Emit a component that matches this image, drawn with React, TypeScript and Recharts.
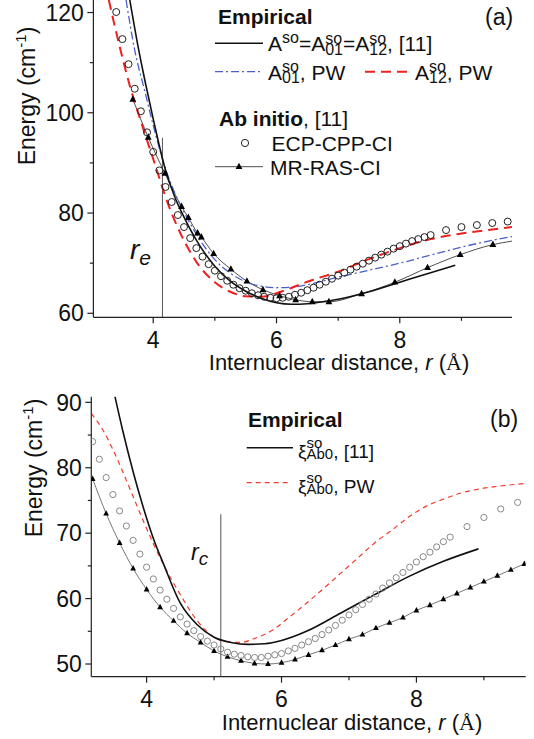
import React from 'react';
import { ComposedChart, Line, XAxis, YAxis, ReferenceLine } from 'recharts';

const FONT = '"Liberation Sans", Arial, sans-serif';

// ---------- panel (a) ----------
const A_EMP_R = [3.62, 3.75, 3.88, 4.0, 4.19, 4.35, 4.5, 4.75, 5.0, 5.25, 5.5, 5.75, 6.0, 6.25, 6.5, 6.75, 7.0, 7.5, 8.0, 8.5, 8.9];
const A_EMP_E = [122.5, 113.5, 105.6, 98.8, 89, 83.2, 79.2, 73.6, 69.4, 66.4, 64.4, 63, 62.1, 61.8, 61.9, 62.3, 62.8, 64.3, 66.2, 68.1, 69.6];

const A01_PW_R = [3.56, 3.7, 3.86, 4.0, 4.19, 4.35, 4.5, 4.75, 5.0, 5.25, 5.5, 5.75, 6.0, 6.25, 6.5, 7.0, 7.5, 8.0, 8.5, 9.0, 9.4, 9.82];
const A01_PW_E = [122.5, 112.5, 104.5, 97.5, 89.2, 84, 80.2, 74.8, 70.7, 68, 66.3, 65.4, 65.1, 65.2, 65.7, 67.2, 68.6, 70, 71.6, 73.2, 74.3, 75.3];

const A12_PW_R = [3.28, 3.45, 3.63, 3.8, 4.0, 4.25, 4.5, 4.75, 5.0, 5.25, 5.5, 5.75, 6.0, 6.25, 6.5, 7.0, 7.5, 8.0, 8.5, 9.0, 9.5, 9.82];
const A12_PW_E = [122.5, 113.5, 105, 98.3, 90.8, 81.5, 74.5, 69.4, 66.2, 64.3, 63.4, 63.3, 64, 65.1, 66.3, 68.3, 70.8, 73, 74.8, 75.9, 76.7, 77.2];

const A_ECP_R = [3.4, 3.5, 3.6, 3.7, 3.8, 3.9, 4.0, 4.1, 4.2, 4.3, 4.4, 4.5, 4.6, 4.7, 4.8, 4.9, 5.0, 5.1, 5.2, 5.3, 5.4, 5.5, 5.6, 5.7, 5.8, 5.9, 6.0, 6.1, 6.2, 6.3, 6.4, 6.5, 6.6, 6.7, 6.8, 6.9, 7.0, 7.1, 7.2, 7.3, 7.4, 7.5, 7.6, 7.7, 7.8, 7.9, 8.0, 8.1, 8.2, 8.3, 8.4, 8.5, 8.75, 9.0, 9.25, 9.5, 9.75];
const A_ECP_E = [120.1, 114.7, 109.7, 104.8, 100.3, 96.1, 92.2, 88.5, 85.2, 82.2, 79.6, 77.2, 75.0, 73.0, 71.3, 69.8, 68.5, 67.4, 66.5, 65.7, 65.0, 64.5, 64.0, 63.6, 63.3, 63.1, 63.0, 63.1, 63.3, 63.7, 64.1, 64.6, 65.1, 65.7, 66.3, 66.9, 67.5, 68.1, 68.7, 69.3, 69.9, 70.5, 71.1, 71.7, 72.3, 72.9, 73.4, 73.9, 74.4, 74.8, 75.2, 75.6, 76.6, 77.2, 77.6, 78.0, 78.3];

const A_MR_R = [3.67, 3.92, 4.19, 4.46, 4.57, 4.72, 4.78, 4.98, 5.26, 5.52, 5.78, 6.05, 6.31, 6.58, 6.85, 7.38, 7.92, 8.45, 8.98, 9.51];
const A_MR_E = [102.7, 95.1, 87.9, 81.3, 79.1, 76.0, 75.2, 71.9, 68.8, 66.4, 64.7, 63.5, 62.7, 62.3, 62.3, 63.9, 66.2, 69.1, 71.7, 73.7];
const A_MR_TAIL = { r: 9.82, E: 74.4 };

const R_E = 4.15;
const R_E_TOP = 95;
const A_X_DOMAIN = [3.03, 9.82];
const A_Y_DOMAIN = [59.2, 122.5];
const A_X_TICKS = [4, 5, 6, 7, 8, 9];
const A_X_LABELS = [4, 6, 8];
const A_Y_TICKS = [60, 70, 80, 90, 100, 110, 120];
const A_Y_LABELS = [60, 80, 100, 120];

// ---------- panel (b) ----------
const B_EMP_R = [3.53, 3.65, 3.8, 3.94, 4.1, 4.25, 4.5, 4.75, 5.0, 5.25, 5.5, 5.75, 6.0, 6.37, 6.88, 7.38, 7.89, 8.4, 8.92];
const B_EMP_E = [90.9, 85.5, 79.4, 74.3, 69.2, 65.3, 59.3, 56, 54.1, 53.3, 53.0, 53.1, 53.6, 55, 57.8, 60.6, 63.4, 65.7, 67.6];

const B_PW_R = [3.18, 3.35, 3.5, 3.65, 3.8, 3.95, 4.1, 4.25, 4.5, 4.75, 5.0, 5.2, 5.4, 5.6, 5.87, 6.12, 6.37, 6.63, 6.88, 7.13, 7.38, 7.64, 7.89, 8.14, 8.4, 8.65, 8.9, 9.16, 9.62];
const B_PW_E = [88.3, 85.8, 82.8, 79.3, 75.6, 71.9, 68.4, 65.2, 60.6, 56.6, 54.1, 53.4, 53.3, 53.9, 55.2, 57.2, 59.3, 61.6, 63.9, 66.2, 68.5, 70.5, 72.5, 74.1, 75.2, 76.1, 76.7, 77.1, 77.6];

const B_ECP_R = [3.2, 3.3, 3.4, 3.5, 3.6, 3.7, 3.8, 3.9, 4.0, 4.1, 4.2, 4.3, 4.4, 4.5, 4.6, 4.7, 4.8, 4.9, 5.0, 5.1, 5.2, 5.3, 5.4, 5.5, 5.6, 5.7, 5.8, 5.9, 6.0, 6.1, 6.2, 6.3, 6.4, 6.5, 6.6, 6.7, 6.8, 6.9, 7.0, 7.1, 7.2, 7.3, 7.4, 7.5, 7.6, 7.7, 7.8, 7.9, 8.0, 8.1, 8.2, 8.3, 8.4, 8.5, 8.75, 9.0, 9.25, 9.5];
const B_ECP_E = [84.0, 81.3, 78.5, 75.9, 73.4, 71.1, 68.9, 66.8, 64.8, 63.0, 61.3, 59.9, 58.5, 57.2, 56.1, 55.1, 54.2, 53.5, 52.9, 52.3, 51.8, 51.5, 51.3, 51.1, 51.0, 51.0, 51.2, 51.4, 51.6, 52.0, 52.4, 52.9, 53.4, 53.9, 54.5, 55.2, 55.9, 56.7, 57.5, 58.3, 59.1, 59.9, 60.7, 61.6, 62.4, 63.2, 64.0, 64.8, 65.6, 66.4, 67.1, 67.9, 68.7, 69.4, 71.0, 72.4, 73.7, 74.7];

const B_MR_R = [3.2, 3.4, 3.6, 3.8, 4.0, 4.2, 4.4, 4.6, 4.8, 5.0, 5.2, 5.4, 5.6, 5.8, 6.0, 6.2, 6.4, 6.6, 6.8, 7.0, 7.2, 7.4, 7.6, 7.8, 8.0, 8.2, 8.4, 8.6, 8.8, 9.0, 9.2, 9.4, 9.6];
const B_MR_E = [78.3, 73.0, 68.5, 64.6, 61.4, 58.7, 56.6, 54.7, 53.3, 52.0, 51.1, 50.5, 50.1, 50.0, 50.2, 50.7, 51.4, 52.1, 52.9, 53.8, 54.5, 55.5, 56.3, 57.1, 58.2, 59.0, 59.9, 60.8, 61.7, 62.6, 63.5, 64.4, 65.3];

const R_C = 5.1;
const R_C_TOP = 72.9;
const B_X_DOMAIN = [3.18, 9.62];
const B_Y_DOMAIN = [48.06, 90.86];
const B_X_TICKS = [4, 5, 6, 7, 8, 9];
const B_X_LABELS = [4, 6, 8];
const B_Y_TICKS = [50, 55, 60, 65, 70, 75, 80, 85, 90];
const B_Y_LABELS = [50, 60, 70, 80, 90];

type Pt = { r: number; E: number; hide?: boolean };
const zip = (rs: number[], es: number[]): Pt[] => rs.map((r, i) => ({ r, E: es[i] }));

const aEmp = zip(A_EMP_R, A_EMP_E);
const a01 = zip(A01_PW_R, A01_PW_E);
const a12 = zip(A12_PW_R, A12_PW_E);
const aEcp = zip(A_ECP_R, A_ECP_E);
const aMr: Pt[] = [...zip(A_MR_R, A_MR_E), { ...A_MR_TAIL, hide: true }];

const bEmp = zip(B_EMP_R, B_EMP_E);
const bPw = zip(B_PW_R, B_PW_E);
const bEcp = zip(B_ECP_R, B_ECP_E);
const bMr = zip(B_MR_R, B_MR_E);

const openCircle = (rad: number, color: string) => (p: any) => {
    if (p.cx == null || p.cy == null) return <g key={p.index} />;
    return <circle key={p.index} cx={p.cx} cy={p.cy} r={rad} fill="none" stroke={color} strokeWidth={1} />;
};

const triangle = (s: number) => (p: any) => {
    if (p.cx == null || p.cy == null || p.payload?.hide) return <g key={p.index} />;
    const { cx, cy } = p;
    return (
        <polygon
            key={p.index}
            points={`${cx},${cy - s} ${cx - s * 0.85},${cy + s * 0.6} ${cx + s * 0.85},${cy + s * 0.6}`}
            fill="#000"
        />
    );
};

const xTick = (labels: number[], dy: number) => (p: any) => {
    const major = labels.includes(p.payload.value);
    return (
        <g>
            <line x1={p.x} y1={p.y} x2={p.x} y2={p.y + (major ? 6 : 3.5)} stroke="#222" strokeWidth={1.2} />
            {major && (
                <text x={p.x} y={p.y + dy} textAnchor="middle" fontSize={23} fontFamily={FONT} fill="#111">
                    {p.payload.value}
                </text>
            )}
        </g>
    );
};

const yTick = (labels: number[]) => (p: any) => {
    const major = labels.includes(p.payload.value);
    return (
        <g>
            <line x1={p.x} y1={p.y} x2={p.x - (major ? 6 : 3.5)} y2={p.y} stroke="#222" strokeWidth={1.2} />
            {major && (
                <text x={p.x - 9.5} y={p.y + 8.2} textAnchor="end" fontSize={23} fontFamily={FONT} fill="#111">
                    {p.payload.value}
                </text>
            )}
        </g>
    );
};

// stacked super/subscript, as in A^so_01
const SupSub: React.FC<{ sup: string; sub?: string; size?: number; drop?: number }> = ({ sup, sub, size = 16, drop = 3.5 }) =>
    sub ? (
        <span style={{ display: 'inline-block', verticalAlign: `-${drop}px`, fontSize: size, lineHeight: '11px' }}>
            <span style={{ display: 'block' }}>{sup}</span>
            <span style={{ display: 'block' }}>{sub}</span>
        </span>
    ) : (
        <span style={{ fontSize: size, verticalAlign: '8px', lineHeight: '11px' }}>{sup}</span>
    );

const Txt: React.FC<{ x: number; y: number; size?: number; bold?: boolean; children: React.ReactNode }> = ({ x, y, size = 21, bold, children }) => (
    <div
        style={{
            position: 'absolute',
            left: x,
            top: y,
            transform: 'translateY(-50%)',
            fontSize: size,
            lineHeight: 1,
            fontWeight: bold ? 'bold' : 'normal',
            whiteSpace: 'nowrap',
            color: '#111',
        }}
    >
        {children}
    </div>
);

const Swatch: React.FC<{ x1: number; x2: number; y: number; color: string; width: number; dash?: string; tri?: boolean; circle?: boolean }> = ({ x1, x2, y, color, width, dash, tri, circle }) => {
    const mid = (x1 + x2) / 2;
    return (
        <svg style={{ position: 'absolute', left: 0, top: 0, overflow: 'visible' }} width={1} height={1}>
            {!circle && <line x1={x1} x2={x2} y1={y} y2={y} stroke={color} strokeWidth={width} strokeDasharray={dash} />}
            {tri && <polygon points={`${mid},${y - 4} ${mid - 3.4},${y + 2.4} ${mid + 3.4},${y + 2.4}`} fill="#000" />}
            {circle && <circle cx={mid} cy={y} r={3.6} fill="none" stroke="#222" />}
        </svg>
    );
};

const YTitle: React.FC<{ x: number; y: number }> = ({ x, y }) => (
    <div
        style={{
            position: 'absolute',
            left: x,
            top: y,
            transform: 'translate(-50%, -50%) rotate(-90deg)',
            fontSize: 23,
            lineHeight: 1,
            whiteSpace: 'nowrap',
            color: '#111',
        }}
    >
        Energy (cm<span style={{ fontSize: 15, verticalAlign: '9px', lineHeight: '11px' }}>-1</span>)
    </div>
);

const XTitle: React.FC<{ x: number; y: number }> = ({ x, y }) => (
    <div
        style={{
            position: 'absolute',
            left: x,
            top: y,
            transform: 'translate(-50%, -50%)',
            fontSize: 22,
            lineHeight: 1,
            whiteSpace: 'nowrap',
            color: '#111',
        }}
    >
        Internuclear distance, <i>r</i> (<span style={{ fontFamily: '"Liberation Serif", serif' }}>Å</span>)
    </div>
);

export default function App() {
    return (
        <div style={{ position: 'absolute', left: 0, top: 0, width: 534, height: 739, background: '#fff', fontFamily: FONT, overflow: 'hidden' }}>
            <div style={{ position: 'absolute', left: 0, top: 0 }}>
                <ComposedChart width={534} height={370} margin={{ top: 0, right: 22, bottom: 22.7, left: 33.4 }}>
                    <XAxis
                        type="number"
                        dataKey="r"
                        domain={A_X_DOMAIN}
                        allowDataOverflow
                        ticks={A_X_TICKS}
                        interval={0}
                        height={30}
                        tickSize={0}
                        tickMargin={0}
                        tickLine={false}
                        tick={xTick(A_X_LABELS, 31)}
                        axisLine={{ stroke: '#222', strokeWidth: 1.2 }}
                    />
                    <YAxis
                        type="number"
                        dataKey="E"
                        domain={A_Y_DOMAIN}
                        allowDataOverflow
                        ticks={A_Y_TICKS}
                        interval={0}
                        width={60}
                        tickSize={0}
                        tickMargin={0}
                        tickLine={false}
                        tick={yTick(A_Y_LABELS)}
                        axisLine={{ stroke: '#222', strokeWidth: 1.2 }}
                    />
                    <ReferenceLine segment={[{ x: R_E, y: A_Y_DOMAIN[0] }, { x: R_E, y: R_E_TOP }]} stroke="#555" strokeWidth={1} />
                    <Line data={aMr} dataKey="E" type="monotone" stroke="#222" strokeWidth={0.8} dot={triangle(4)} isAnimationActive={false} />
                    <Line data={a01} dataKey="E" type="monotone" stroke="#4a5fc8" strokeWidth={1.3} strokeDasharray="8 3 2 3" dot={false} isAnimationActive={false} />
                    <Line data={a12} dataKey="E" type="monotone" stroke="#ee2020" strokeWidth={2} strokeDasharray="10 6" dot={false} isAnimationActive={false} />
                    <Line data={aEmp} dataKey="E" type="monotone" stroke="#111" strokeWidth={1.6} dot={false} isAnimationActive={false} />
                    <Line data={aEcp} dataKey="E" stroke="none" dot={openCircle(3.5, '#222')} isAnimationActive={false} />
                </ComposedChart>
            </div>

            <div style={{ position: 'absolute', left: 0, top: 370 }}>
                <ComposedChart width={534} height={369} margin={{ top: 26.7, right: 8.3, bottom: 32.3, left: 31.3 }}>
                    <XAxis
                        type="number"
                        dataKey="r"
                        domain={B_X_DOMAIN}
                        allowDataOverflow
                        ticks={B_X_TICKS}
                        interval={0}
                        height={30}
                        tickSize={0}
                        tickMargin={0}
                        tickLine={false}
                        tick={xTick(B_X_LABELS, 30)}
                        axisLine={{ stroke: '#222', strokeWidth: 1.2 }}
                    />
                    <YAxis
                        type="number"
                        dataKey="E"
                        domain={B_Y_DOMAIN}
                        allowDataOverflow
                        ticks={B_Y_TICKS}
                        interval={0}
                        width={60}
                        tickSize={0}
                        tickMargin={0}
                        tickLine={false}
                        tick={yTick(B_Y_LABELS)}
                        axisLine={{ stroke: '#222', strokeWidth: 1.2 }}
                    />
                    <ReferenceLine segment={[{ x: R_C, y: B_Y_DOMAIN[0] }, { x: R_C, y: R_C_TOP }]} stroke="#555" strokeWidth={1} />
                    <Line data={bMr} dataKey="E" type="monotone" stroke="#777" strokeWidth={1} dot={triangle(3.4)} isAnimationActive={false} />
                    <Line data={bPw} dataKey="E" type="monotone" stroke="#f23a2c" strokeWidth={1.2} strokeDasharray="5 4" dot={false} isAnimationActive={false} />
                    <Line data={bEmp} dataKey="E" type="monotone" stroke="#111" strokeWidth={1.6} dot={false} isAnimationActive={false} />
                    <Line data={bEcp} dataKey="E" stroke="none" dot={openCircle(3.1, '#888')} isAnimationActive={false} />
                </ComposedChart>
            </div>

            {/* panel (a) annotations */}
            <YTitle x={27} y={96} />
            <XTitle x={339} y={363} />
            <Txt x={218} y={15.7} bold>Empirical</Txt>
            <Txt x={485} y={17} size={23}>(a)</Txt>
            <Swatch x1={215} x2={263} y={43.3} color="#111" width={1.6} />
            <Txt x={268} y={43.3}>
                A<SupSub sup="so" />=A<SupSub sup="so" sub="01" />=A<SupSub sup="so" sub="12" />, [11]
            </Txt>
            <Swatch x1={215} x2={262} y={71.7} color="#4a5fc8" width={1.3} dash="8 3 2 3" />
            <Txt x={268} y={71.7}>
                A<SupSub sup="so" sub="01" />, PW
            </Txt>
            <Swatch x1={365} x2={410} y={71.7} color="#ee2020" width={2} dash="10 6" />
            <Txt x={415} y={71.7}>
                A<SupSub sup="so" sub="12" />, PW
            </Txt>
            <Txt x={219} y={118}>
                <b>Ab initio</b>, [11]
            </Txt>
            <Swatch x1={235} x2={255} y={143} color="#222" width={1} circle />
            <Txt x={271.5} y={143}>ECP-CPP-CI</Txt>
            <Swatch x1={215} x2={263} y={166.7} color="#222" width={0.8} tri />
            <Txt x={270} y={166.7}>MR-RAS-CI</Txt>
            <div style={{ position: 'absolute', left: 130, top: 236, fontSize: 28, fontStyle: 'italic', lineHeight: 1, color: '#111' }}>
                r<span style={{ fontSize: 21, position: 'relative', top: 6 }}>e</span>
            </div>

            {/* panel (b) annotations */}
            <YTitle x={34} y={468} />
            <XTitle x={352} y={723} />
            <Txt x={248} y={418.5} bold>Empirical</Txt>
            <Txt x={490} y={418.5} size={23}>(b)</Txt>
            <Swatch x1={246.7} x2={293} y={447.7} color="#111" width={1.6} />
            <Txt x={298} y={448.5} size={19}>
                ξ<SupSub sup="so" sub="Ab0" size={15} drop={1.5} />, [11]
            </Txt>
            <Swatch x1={246.7} x2={290} y={482.7} color="#f23a2c" width={1.2} dash="5 4" />
            <Txt x={298} y={484} size={19}>
                ξ<SupSub sup="so" sub="Ab0" size={15} drop={1.5} />, PW
            </Txt>
            <div style={{ position: 'absolute', left: 191, top: 541, fontSize: 23, fontStyle: 'italic', lineHeight: 1, color: '#111' }}>
                r<span style={{ fontSize: 19, position: 'relative', top: 5 }}>c</span>
            </div>
        </div>
    );
}
